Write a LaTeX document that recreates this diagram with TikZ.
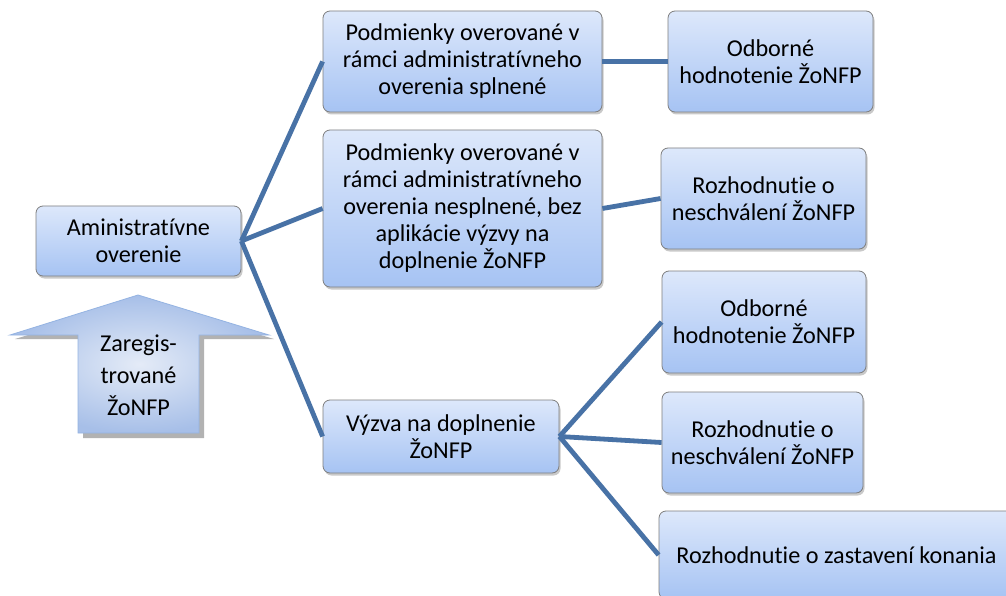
\documentclass[tikz,border=0pt]{standalone}
\usepackage{fontspec}
\setmainfont{Carlito}[RawFeature={-liga;-clig;-calt;-dlig}]
\usetikzlibrary{shadows}
\definecolor{boxtop}{HTML}{DDE8FB}
\definecolor{boxbot}{HTML}{A6C3F3}
\definecolor{boxline}{HTML}{7F7F7F}
\definecolor{conn}{HTML}{4872A6}
\definecolor{arrin}{HTML}{E4EBF7}
\definecolor{arrout}{HTML}{A7BFE8}
\definecolor{arrline}{HTML}{94B3E2}
\begin{document}
\begin{tikzpicture}[x=1pt,y=-1pt,
  boxnode/.style={draw=boxline, line width=0.8pt, rounded corners=7pt,
    top color=boxtop, bottom color=boxbot, inner sep=0pt, align=center,
    font=\fontsize{24.2}{27}\selectfont,
    drop shadow={shadow xshift=1.5pt, shadow yshift=-2.5pt, opacity=0.35, fill=black!60}},
  connline/.style={draw=conn, line width=4.8pt},
  arrtext/.style={align=center, inner sep=0pt, font=\fontsize{24.2}{32}\selectfont}]
\clip (0,0) rectangle (1006,596);
\fill[white] (0,0) rectangle (1006,596);

% up arrow
\fill[black, opacity=0.3] (143,300) -- (274,339) -- (204,339) -- (204,438) -- (83,438) -- (83,339) -- (15,339) -- cycle;
\path[draw=arrline, line width=0.8pt, inner color=arrin, outer color=arrout]
  (138,295) -- (269,335) -- (199,335) -- (199,433) -- (78,433) -- (78,335) -- (10,335) -- cycle;
\node[arrtext] (reg) at (138.5,375) {Zaregis-\\trované\\ŽoNFP};

% boxes
\node[boxnode, minimum width=205pt, minimum height=70pt] (adm) at (138.5,241) {Aministratívne\\overenie};
\node[boxnode, minimum width=279pt, minimum height=101pt] (a) at (462.5,61.5) {Podmienky overované v\\rámci administratívneho\\overenia splnené};
\node[boxnode, minimum width=279pt, minimum height=157pt] (b) at (462.5,208.5) {Podmienky overované v\\rámci administratívneho\\overenia nesplnené, bez\\aplikácie výzvy na\\doplnenie ŽoNFP};
\node[boxnode, minimum width=236pt, minimum height=73pt] (c) at (441,436.5) {Výzva na doplnenie\\ŽoNFP};
\node[boxnode, minimum width=205pt, minimum height=101pt] (r1) at (770.5,61.5) {Odborné\\hodnotenie ŽoNFP};
\node[boxnode, minimum width=205pt, minimum height=101pt] (r2) at (763.5,198.5) {Rozhodnutie o\\neschválení ŽoNFP};
\node[boxnode, minimum width=204pt, minimum height=102pt] (r3) at (764,322) {Odborné\\hodnotenie ŽoNFP};
\node[boxnode, minimum width=201pt, minimum height=101pt] (r4) at (762.5,442.5) {Rozhodnutie o\\neschválení ŽoNFP};
\node[boxnode, minimum width=355pt, minimum height=88pt] (r5) at (836.5,555) {Rozhodnutie o zastavení konania};

% connectors
\draw[connline] (adm.east) -- (a.west);
\draw[connline] (adm.east) -- (b.west);
\draw[connline] (adm.east) -- (c.west);
\draw[connline] (a.east) -- (r1.west);
\draw[connline] (b.east) -- (r2.west);
\draw[connline] (c.east) -- (r3.west);
\draw[connline] (c.east) -- (r4.west);
\draw[connline] (c.east) -- (r5.west);
\end{tikzpicture}
\end{document}
